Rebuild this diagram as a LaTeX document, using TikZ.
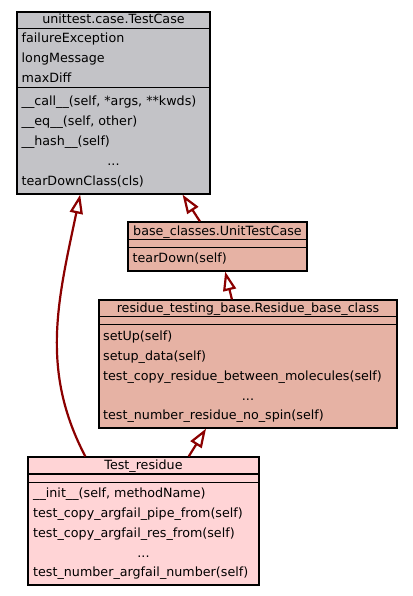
\documentclass[tikz,border=0pt]{standalone}
\usepackage{fontspec}
\setmainfont{DejaVu Sans}
\usetikzlibrary{arrows.meta,calc}
\definecolor{cgrey}{HTML}{C3C3C7}
\definecolor{csalmon}{HTML}{E6B2A4}
\definecolor{cpink}{HTML}{FFD4D6}
\definecolor{dred}{HTML}{8B0000}
\tikzset{
  cls/.style={draw=black,line width=1.2pt,inner sep=0pt},
  sep/.style={black,line width=1.2pt},
  row/.style={anchor=base west,inner sep=0pt,font=\fontsize{12.7}{15}\selectfont},
  ttl/.style={anchor=base,inner sep=0pt,font=\fontsize{12.7}{15}\selectfont},
  inh/.style={line width=2.2pt,dred,-{Triangle[open,fill=white,length=19pt,width=13pt]}},
}

\begin{document}
\begin{tikzpicture}[x=1pt,y=-1pt]
\path[fill=white] (0,0) rectangle (412,596);
\useasboundingbox (0,0) rectangle (412,596);
% unittest.case.TestCase
\node[cls,fill=cgrey,minimum width=193pt,minimum height=182pt] (tc) at (113.5,103) {};
\draw[sep] ($(tc.north west)+(0,17)$) -- ($(tc.north east)+(0,17)$);
\draw[sep] ($(tc.north west)+(0,76)$) -- ($(tc.north east)+(0,76)$);
\node[ttl] (tc-t) at (113.5,23.3) {unittest.case.TestCase};
\node[row] (tc-a1) at (21.5,43) {failureException};
\node[row] (tc-a2) at (21.5,62.7) {longMessage};
\node[row] (tc-a3) at (21.5,82.3) {maxDiff};
\node[row] (tc-m1) at (21.5,105.7) {\_\_call\_\_(self, *args, **kwds)};
\node[row] (tc-m2) at (21.5,125.5) {\_\_eq\_\_(self, other)};
\node[row] (tc-m3) at (21.5,145.3) {\_\_hash\_\_(self)};
\node[ttl] (tc-m4) at (113.5,165) {...};
\node[row] (tc-m5) at (21.5,185) {tearDownClass(cls)};
% base_classes.UnitTestCase
\node[cls,fill=csalmon,minimum width=179pt,minimum height=49pt] (ut) at (217.5,246.5) {};
\draw[sep] ($(ut.north west)+(0,18)$) -- ($(ut.north east)+(0,18)$);
\draw[sep] ($(ut.north west)+(0,26)$) -- ($(ut.north east)+(0,26)$);
\node[ttl] (ut-t) at (217.5,235) {base\_classes.UnitTestCase};
\node[row] (ut-m1) at (132.5,262.3) {tearDown(self)};
% residue_testing_base.Residue_base_class
\node[cls,fill=csalmon,minimum width=298pt,minimum height=128pt] (rb) at (248,364) {};
\draw[sep] ($(rb.north west)+(0,17)$) -- ($(rb.north east)+(0,17)$);
\draw[sep] ($(rb.north west)+(0,25)$) -- ($(rb.north east)+(0,25)$);
\node[ttl] (rb-t) at (248,312.3) {residue\_testing\_base.Residue\_base\_class};
\node[row] (rb-m1) at (103,340.3) {setUp(self)};
\node[row] (rb-m2) at (103,360.3) {setup\_data(self)};
\node[row] (rb-m3) at (103,380.3) {test\_copy\_residue\_between\_molecules(self)};
\node[ttl] (rb-m4) at (248,400) {...};
\node[row] (rb-m5) at (103,419.7) {test\_number\_residue\_no\_spin(self)};
% Test_residue
\node[cls,fill=cpink,minimum width=231pt,minimum height=128pt] (tr) at (143.5,521) {};
\draw[sep] ($(tr.north west)+(0,17.5)$) -- ($(tr.north east)+(0,17.5)$);
\draw[sep] ($(tr.north west)+(0,26)$) -- ($(tr.north east)+(0,26)$);
\node[ttl] (tr-t) at (143.5,469.3) {Test\_residue};
\node[row] (tr-m1) at (33,497.3) {\_\_init\_\_(self, methodName)};
\node[row] (tr-m2) at (33,517.3) {test\_copy\_argfail\_pipe\_from(self)};
\node[row] (tr-m3) at (33,537.3) {test\_copy\_argfail\_res\_from(self)};
\node[ttl] (tr-m4) at (143.5,557) {...};
\node[row] (tr-m5) at (33,576.7) {test\_number\_argfail\_number(self)};
% inheritance
\draw[inh] (ut.125.5) -- (tc.-53.4);
\draw[inh] (rb.104) -- (ut.-73);
\draw[inh] (tr.55.8) -- (rb.237.2);
\draw[inh] (tr.132.4) .. controls (40,370) and (58,300) .. (tc.250.3);
\end{tikzpicture}
\end{document}
